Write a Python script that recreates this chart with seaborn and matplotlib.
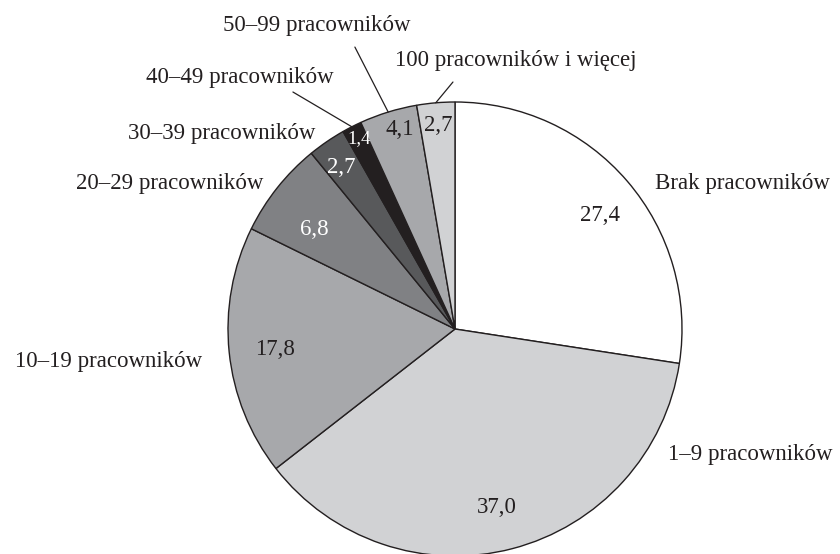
import numpy as np
import matplotlib
matplotlib.use("Agg")
import matplotlib.pyplot as plt
import seaborn as sns

# shares of firms by number of employees (%)
categories = ["Brak pracowników", "1–9 pracowników", "10–19 pracowników",
              "20–29 pracowników", "30–39 pracowników", "40–49 pracowników",
              "50–99 pracowników", "100 pracowników i więcej"]
values = [27.4, 37.0, 17.8, 6.8, 2.7, 1.4, 4.1, 2.7]
value_labels = ["27,4", "37,0", "17,8", "6,8", "2,7", "1,4", "4,1", "2,7"]

colors = ["#ffffff", "#d1d2d4", "#a7a8ab", "#808184",
          "#58595b", "#231f20", "#a7a8ab", "#d1d2d4"]
text_colors = ["#231f20", "#231f20", "#231f20", "white",
               "white", "white", "#231f20", "#231f20"]

sns.set_theme(style="white")
plt.rcParams['font.family'] = ['Liberation Serif', 'DejaVu Serif']

fig = plt.figure(figsize=(8.4, 5.54), dpi=100)
ax = fig.add_axes([0, 0, 1, 1])

wedges, _ = ax.pie(values, colors=colors, startangle=90, counterclock=False,
                   wedgeprops=dict(edgecolor="#231f20", linewidth=1.0))

# value labels inside wedges (radius as fraction of pie radius, angle shift in deg)
val_r = [0.81, 0.81, 0.80, 0.76, 0.87, 0.94, 0.91, 0.90]
val_shift = [-2.5, -1.3, 0.6, 3.2, 0.7, -0.4, -1.6, -0.2]
val_size = [16.5, 16.5, 16.5, 16.5, 16.5, 13.5, 16.5, 16.5]
for w, lab, r, sh, tc, fs in zip(wedges, value_labels, val_r, val_shift,
                                 text_colors, val_size):
    ang = np.deg2rad((w.theta1 + w.theta2) / 2 + sh)
    ax.text(r * np.cos(ang), r * np.sin(ang), lab, ha="center", va="center",
            fontsize=fs, color=tc)

# outer category labels
label_pos = [(0.881, 0.643, "left"), (0.938, -0.555, "left"),
             (-1.115, -0.145, "right"), (-0.846, 0.643, "right"),
             (-0.617, 0.863, "right"), (-0.947, 1.106, "center"),
             (-0.608, 1.339, "center"), (-0.264, 1.181, "left")]
leader_start = {5: (-0.714, 1.044), 6: (-0.441, 1.242), 7: (-0.009, 1.088)}
for i, (cat, (x, y, ha)) in enumerate(zip(categories, label_pos)):
    ax.text(x, y, cat, ha=ha, va="center", fontsize=16.5, color="#231f20")
    if i in leader_start:
        w = wedges[i]
        ang = np.deg2rad((w.theta1 + w.theta2) / 2)
        sx, sy = leader_start[i]
        ax.plot([sx, np.cos(ang)], [sy, np.sin(ang)], color="#231f20", lw=0.9)

R = 227.0
ax.set_xlim(-455 / R, (840 - 455) / R)
ax.set_ylim((329 - 554) / R, 329 / R)
ax.set_aspect("auto")
ax.axis("off")

fig.savefig("out.png", dpi=100)
